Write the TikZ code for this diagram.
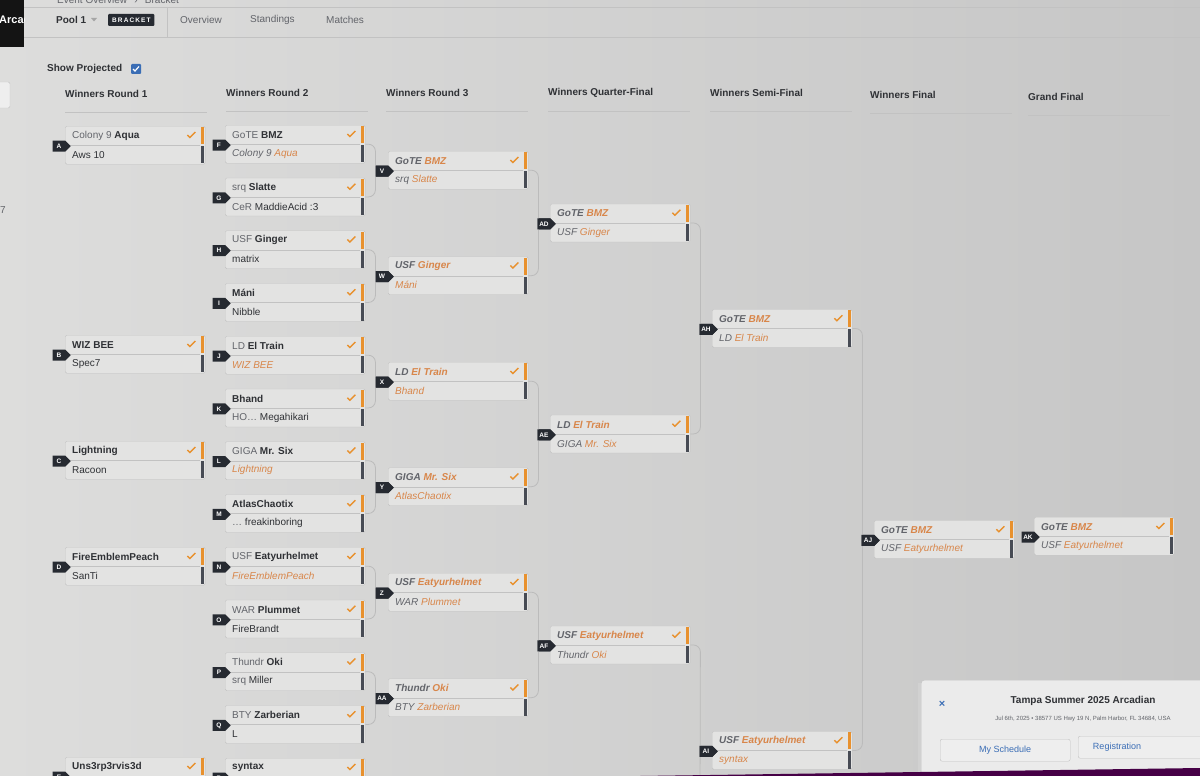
\documentclass[tikz,border=0pt]{standalone}
\usepackage{fontspec}
\setmainfont{Liberation Sans}
\usetikzlibrary{shapes.symbols}
\definecolor{bgleft}{HTML}{DDDDDC}
\definecolor{bgright}{HTML}{C6C6C6}
\definecolor{boxfill}{HTML}{E3E3E2}
\definecolor{boxline}{HTML}{C2C2C2}
\definecolor{linkgrey}{HTML}{BBBBBB}
\definecolor{namedark}{HTML}{2F3135}
\definecolor{clangrey}{HTML}{62646A}
\definecolor{projorange}{HTML}{D8864A}
\definecolor{barorange}{HTML}{E8912E}
\definecolor{bardark}{HTML}{474B54}
\definecolor{badgefill}{HTML}{262A31}
\definecolor{linkblue}{HTML}{3A6DB5}
\tikzstyle{matchbox} = [rectangle, draw=boxline, fill=boxfill, rounded corners=1.5pt,
  minimum width=140pt, minimum height=38pt, anchor=north west, inner sep=0pt]
\tikzstyle{rowtext} = [anchor=west, inner sep=0pt, text=namedark, font=\fontsize{10}{12}\selectfont]
\tikzstyle{badge} = [shape=signal, signal to=east, fill=badgefill, text=white, anchor=east,
  minimum width=18pt, minimum height=11pt, inner sep=1pt, font=\fontsize{6.5}{7}\selectfont\bfseries]
\tikzstyle{link} = [draw=linkgrey, line width=0.8pt, rounded corners=7pt]
\tikzstyle{checkmark} = [draw=barorange, line width=1.3pt]
\tikzstyle{roundhead} = [anchor=west, inner sep=0pt, text=namedark, font=\fontsize{10}{12}\selectfont\bfseries]
\tikzstyle{headline} = [draw=boxline, line width=0.6pt]
\tikzstyle{tab} = [anchor=west, inner sep=0pt, text=clangrey, font=\fontsize{10}{12}\selectfont]
\tikzstyle{button} = [rectangle, draw=boxline, fill=boxfill!60!white, rounded corners=2pt,
  minimum height=22pt, anchor=north west]
\newcommand{\clan}[1]{\textcolor{clangrey}{#1}}
\newcommand{\player}[1]{\textcolor{namedark}{\bfseries #1}}
\newcommand{\proj}[1]{\textcolor{projorange}{#1}}
% #1 name, #2 x, #3 y, #4 letter, #5 winner row, #6 second row
\newcommand{\match}[6]{%
  \node[matchbox] (#1) at (#2,#3) {};
  \draw[boxline] (#1.west) -- ([xshift=-5pt]#1.east);
  \fill[barorange] ([xshift=-4pt,yshift=-1pt]#1.north east) rectangle ([xshift=-1pt,yshift=1pt]#1.east);
  \fill[bardark] ([xshift=-4pt,yshift=-1pt]#1.east) rectangle ([xshift=-1pt,yshift=1pt]#1.south east);
  \draw[checkmark] ([xshift=-18pt,yshift=-9pt]#1.north east) -- ++(2.5,2.5) -- ++(5.5,-5.5);
  \node[rowtext] (#1-top) at ([xshift=7pt,yshift=9.5pt]#1.west) {#5};
  \node[rowtext] (#1-bot) at ([xshift=7pt,yshift=-9.5pt]#1.west) {#6};
  \node[badge] (#1-id) at ([xshift=6pt,yshift=-1pt]#1.west) {#4};
}

\begin{document}
\begin{tikzpicture}[x=1pt, y=-1pt]
  \useasboundingbox (0,0) rectangle (1200,776);
  \shade[left color=bgleft, right color=bgright] (0,0) rectangle (1200,776);

  % page header
  \fill[black!92] (0,0) rectangle (24,47);
  \begin{scope}
    \clip (0,0) rectangle (24,47);
    \node[anchor=west, inner sep=0pt, text=white, font=\fontsize{11}{12}\selectfont\bfseries] (logo) at (-1,20) {Arcadian};
  \end{scope}
  \node[tab] (crumb) at (57,0) {Event Overview \, › \, Bracket};
  \draw[headline] (24,7) -- (1200,7);
  \draw[headline] (24,37) -- (1200,37);
  \draw[headline] (167,7) -- (167,37);
  \node[tab, text=namedark, font=\fontsize{10}{12}\selectfont\bfseries] (pool) at (56,20) {Pool 1};
  \fill[black!35] (91,18) -- (97,18) -- (94,21.5) -- cycle;
  \node[rectangle, fill=badgefill, text=white, rounded corners=1pt, inner xsep=4pt, minimum height=12pt,
    font=\fontsize{6.5}{7}\selectfont\bfseries, anchor=west] (bracket) at (108,20) {B\,R\,A\,C\,K\,E\,T};
  \node[tab] (overview) at (180,20) {Overview};
  \node[tab] (standings) at (250,20) {Standings};
  \node[tab] (matches) at (326,20) {Matches};

  \node[tab, text=namedark, font=\fontsize{10}{12}\selectfont\bfseries] (show) at (47,69) {Show Projected};
  \node[rectangle, fill=linkblue, rounded corners=1pt, minimum size=10pt, inner sep=0pt] (tickbox) at (136,69) {};
  \draw[white, line width=1.2pt] ([xshift=-3pt]tickbox.center) -- ++(2,2) -- ++(4,-4.5);
  \draw[boxline, fill=boxfill!60!white, rounded corners=2pt] (-6,82) rectangle (10,108);
  \node[tab] (edge) at (0,210) {7};

  % round headers
  \node[roundhead] (h1) at (65,94) {Winners Round 1};
  \node[roundhead] (h2) at (226,93) {Winners Round 2};
  \node[roundhead] (h3) at (386,93) {Winners Round 3};
  \node[roundhead] (h4) at (548,93) {Winners Quarter-Final};
  \node[roundhead] (h5) at (710,93) {Winners Semi-Final};
  \node[roundhead] (h6) at (870,95) {Winners Final};
  \node[roundhead] (h7) at (1028,97) {Grand Final};
  \foreach \h in {h1,h2,h3,h4,h5,h6,h7}
    \draw[headline] ([yshift=-18pt]\h.west) -- ++(142,0);

  % winners round 1
  \match{A}{65}{126}{A}{\clan{Colony 9} \player{Aqua}}{Aws 10}
  \match{B}{65}{335}{B}{\player{WIZ BEE}}{Spec7}
  \match{C}{65}{441}{C}{\player{Lightning}}{Racoon}
  \match{D}{65}{547}{D}{\player{FireEmblemPeach}}{SanTi}
  \match{E}{65}{757}{E}{\player{Uns3rp3rvis3d}}{}

  % winners round 2
  \match{F}{225}{125}{F}{\clan{GoTE} \player{BMZ}}{\itshape\clan{Colony 9} \proj{Aqua}}
  \match{G}{225}{177.75}{G}{\clan{srq} \player{Slatte}}{\clan{CeR} MaddieAcid :3}
  \match{H}{225}{230.5}{H}{\clan{USF} \player{Ginger}}{matrix}
  \match{I}{225}{283.25}{I}{\player{Máni}}{Nibble}
  \match{J}{225}{336}{J}{\clan{LD} \player{El Train}}{\itshape\proj{WIZ BEE}}
  \match{K}{225}{388.75}{K}{\player{Bhand}}{\clan{HO…} Megahikari}
  \match{L}{225}{441.5}{L}{\clan{GIGA} \player{Mr. Six}}{\itshape\proj{Lightning}}
  \match{M}{225}{494.25}{M}{\player{AtlasChaotix}}{\clan{…} freakinboring}
  \match{N}{225}{547}{N}{\clan{USF} \player{Eatyurhelmet}}{\itshape\proj{FireEmblemPeach}}
  \match{O}{225}{599.75}{O}{\clan{WAR} \player{Plummet}}{FireBrandt}
  \match{P}{225}{652.5}{P}{\clan{Thundr} \player{Oki}}{\clan{srq} Miller}
  \match{Q}{225}{705.25}{Q}{\clan{BTY} \player{Zarberian}}{L}
  \match{R}{225}{758}{R}{\player{syntax}}{}

  % winners round 3
  \match{V}{388}{151}{V}{\itshape\bfseries\clan{GoTE} \proj{BMZ}}{\itshape\clan{srq} \proj{Slatte}}
  \match{W}{388}{256.5}{W}{\itshape\bfseries\clan{USF} \proj{Ginger}}{\itshape\proj{Máni}}
  \match{X}{388}{362}{X}{\itshape\bfseries\clan{LD} \proj{El Train}}{\itshape\proj{Bhand}}
  \match{Y}{388}{467.5}{Y}{\itshape\bfseries\clan{GIGA} \proj{Mr. Six}}{\itshape\proj{AtlasChaotix}}
  \match{Z}{388}{573}{Z}{\itshape\bfseries\clan{USF} \proj{Eatyurhelmet}}{\itshape\clan{WAR} \proj{Plummet}}
  \match{AA}{388}{678.5}{AA}{\itshape\bfseries\clan{Thundr} \proj{Oki}}{\itshape\clan{BTY} \proj{Zarberian}}

  % quarter-finals, semi-finals, finals
  \match{AD}{550}{203.75}{AD}{\itshape\bfseries\clan{GoTE} \proj{BMZ}}{\itshape\clan{USF} \proj{Ginger}}
  \match{AE}{550}{414.75}{AE}{\itshape\bfseries\clan{LD} \proj{El Train}}{\itshape\clan{GIGA} \proj{Mr. Six}}
  \match{AF}{550}{625.75}{AF}{\itshape\bfseries\clan{USF} \proj{Eatyurhelmet}}{\itshape\clan{Thundr} \proj{Oki}}
  \match{AH}{712}{309.25}{AH}{\itshape\bfseries\clan{GoTE} \proj{BMZ}}{\itshape\clan{LD} \proj{El Train}}
  \match{AI}{712}{731.25}{AI}{\itshape\bfseries\clan{USF} \proj{Eatyurhelmet}}{\itshape\proj{syntax}}
  \match{AJ}{874}{520.25}{AJ}{\itshape\bfseries\clan{GoTE} \proj{BMZ}}{\itshape\clan{USF} \proj{Eatyurhelmet}}
  \match{AK}{1034}{517}{AK}{\itshape\bfseries\clan{GoTE} \proj{BMZ}}{\itshape\clan{USF} \proj{Eatyurhelmet}}

  % bracket lines
  \draw[link] (F.east) -- ++(10,0) |- (G.east);
  \draw[link] (H.east) -- ++(10,0) |- (I.east);
  \draw[link] (J.east) -- ++(10,0) |- (K.east);
  \draw[link] (L.east) -- ++(10,0) |- (M.east);
  \draw[link] (N.east) -- ++(10,0) |- (O.east);
  \draw[link] (P.east) -- ++(10,0) |- (Q.east);
  \draw[link] (V.east) -- ++(10,0) |- (W.east);
  \draw[link] (X.east) -- ++(10,0) |- (Y.east);
  \draw[link] (Z.east) -- ++(10,0) |- (AA.east);
  \draw[link] (AD.east) -- ++(10,0) |- (AE.east);
  \coordinate (AG-in) at (700,800);
  \draw[link] (AF.east) -- ++(10,0) -- (AG-in);
  \draw[link] (AH.east) -- ++(10,0) |- (AI.east);
  % redraw badges over the lines
  \foreach \m in {V,W,X,Y,Z,AA,AD,AE,AF,AH,AI,AJ}
    \node[badge] at (\m-id.east) {\m};

  % event card
  \fill[black!18] (918,683) rectangle (1210,790);
  \node[rectangle, draw=boxline, fill=white!92!black, rounded corners=3pt, minimum width=290pt,
    minimum height=110pt, anchor=north west] (card) at (921,680) {};
  \node[text=linkblue, font=\fontsize{11}{12}\selectfont\bfseries] (close) at (942,704) {×};
  \node[text=namedark, font=\fontsize{10}{12}\selectfont\bfseries] (title) at (1083,701) {Tampa Summer 2025 Arcadian};
  \node[text=clangrey, font=\fontsize{6}{7}\selectfont] (address) at (1083,719)
    {Jul 6th, 2025 • 38577 US Hwy 19 N, Palm Harbor, FL 34684, USA};
  \node[button, minimum width=130pt, text=linkblue, font=\fontsize{9}{10}\selectfont] (schedule) at (940,739) {My Schedule};
  \node[button, minimum width=134pt] (register) at (1078,736) {};
  \node[text=linkblue, font=\fontsize{9}{10}\selectfont] (reglabel) at (1117,747) {Registration};
  \fill[violet!55!black] (640,776) -- (1200,768) -- (1200,776) -- cycle;
\end{tikzpicture}
\end{document}
